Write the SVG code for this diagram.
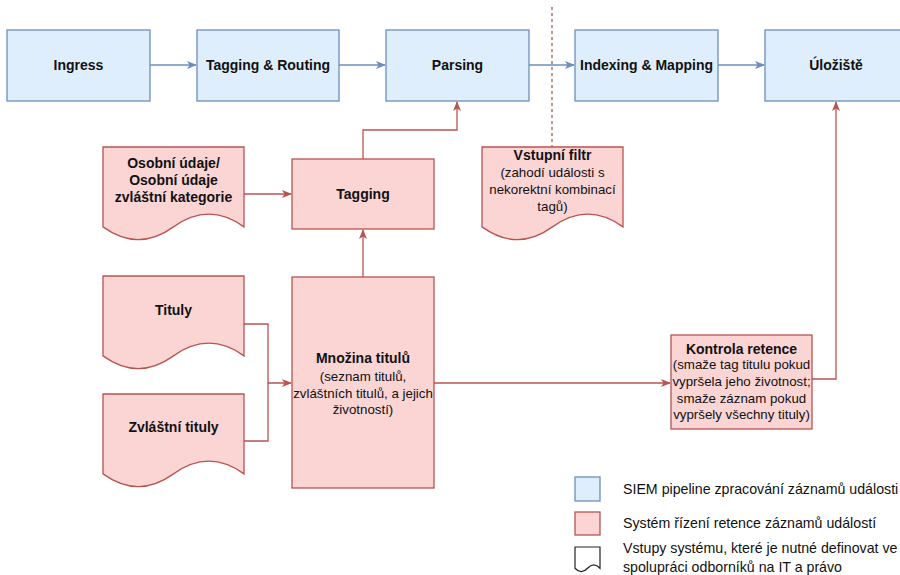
<svg xmlns="http://www.w3.org/2000/svg" width="900" height="575" viewBox="0 0 900 575">
<style>
.blue{fill:#dfeefc;stroke:#6c8ebf;stroke-width:1.3}
.red{fill:#fad5d4;stroke:#b85450;stroke-width:1.3}
.t{font-family:"Liberation Sans",Arial,sans-serif;font-size:13.3px;fill:#111;text-anchor:middle}
.b{font-weight:bold;font-size:14px}
.l{text-anchor:start;font-size:14.2px}
.cb{fill:none;stroke:#6c8ebf;stroke-width:1.3}
.cr{fill:none;stroke:#b85450;stroke-width:1.3}
</style>
<defs>
<marker id="ab" viewBox="0 0 10 10" refX="9" refY="5" markerWidth="10" markerHeight="10" markerUnits="userSpaceOnUse" orient="auto"><path d="M0,1 L10,5 L0,9 L2.5,5 Z" fill="#6c8ebf"/></marker>
<marker id="ar" viewBox="0 0 10 10" refX="9" refY="5" markerWidth="10" markerHeight="10" markerUnits="userSpaceOnUse" orient="auto"><path d="M0,1 L10,5 L0,9 L2.5,5 Z" fill="#b85450"/></marker>
<path id="doc" d="M0,0 H141 V79.9 Q105.75,54.5 70.5,79.9 Q35.25,105.3 0,79.9 Z"/>
</defs>
<g id="connectors">
<path class="cb" d="M150,65 H196" marker-end="url(#ab)"/>
<path class="cb" d="M339,65 H385" marker-end="url(#ab)"/>
<path class="cb" d="M529,65 H574" marker-end="url(#ab)"/>
<path class="cb" d="M718,65 H764" marker-end="url(#ab)"/>
<path class="cr" d="M552,7 V147" stroke-dasharray="3,3"/>
<path class="cr" d="M244,194 H291" marker-end="url(#ar)"/>
<path class="cr" d="M363,159 V130 H457 V102" marker-end="url(#ar)"/>
<path class="cr" d="M363,277 V230" marker-end="url(#ar)"/>
<path class="cr" d="M244,324 H268 V383 H291" marker-end="url(#ar)"/>
<path class="cr" d="M244,441 H268 V383"/>
<path class="cr" d="M434,383 H670" marker-end="url(#ar)"/>
<path class="cr" d="M812,379 H836 V102" marker-end="url(#ar)"/>
</g>
<g id="ingress"><rect class="blue" x="7" y="30" width="143" height="71"/><text class="t b" x="78.5" y="70">Ingress</text></g>
<g id="tagging-routing"><rect class="blue" x="197" y="30" width="142" height="71"/><text class="t b" x="268" y="70">Tagging &amp; Routing</text></g>
<g id="parsing"><rect class="blue" x="386" y="30" width="143" height="71"/><text class="t b" x="457.5" y="70">Parsing</text></g>
<g id="indexing"><rect class="blue" x="575" y="30" width="143" height="71"/><text class="t b" x="646.5" y="70">Indexing &amp; Mapping</text></g>
<g id="uloziste"><rect class="blue" x="765" y="30" width="143" height="71"/><text class="t b" x="836" y="70">Úložiště</text></g>
<g id="osobni-udaje"><use href="#doc" class="red" x="103" y="147"/>
<text class="t b" x="173.5" y="168">Osobní údaje/</text><text class="t b" x="173.5" y="185">Osobní údaje</text><text class="t b" x="173.5" y="202">zvláštní kategorie</text></g>
<g id="tagging"><rect class="red" x="292" y="159" width="142" height="70"/><text class="t b" x="363" y="199">Tagging</text></g>
<g id="vstupni-filtr"><use href="#doc" class="red" x="482" y="147"/>
<text class="t b" x="552.5" y="160">Vstupní filtr</text><text class="t" x="552.5" y="177">(zahodí události s</text><text class="t" x="552.5" y="194">nekorektní kombinací</text><text class="t" x="552.5" y="211">tagů)</text></g>
<g id="tituly"><use href="#doc" class="red" x="103" y="276"/><text class="t b" x="173.5" y="315">Tituly</text></g>
<g id="zvlastni-tituly"><use href="#doc" class="red" x="103" y="394"/><text class="t b" x="173.5" y="432">Zvláštní tituly</text></g>
<g id="mnozina"><rect class="red" x="292" y="277" width="142" height="211"/>
<text class="t b" x="363" y="363">Množina titulů</text><text class="t" x="363" y="381">(seznam titulů,</text><text class="t" x="363" y="398">zvláštních titulů, a jejich</text><text class="t" x="363" y="414">životností)</text></g>
<g id="kontrola"><rect class="red" x="671" y="335" width="141" height="94"/>
<text class="t b" x="741.5" y="354">Kontrola retence</text><text class="t" x="741.5" y="369">(smaže tag titulu pokud</text><text class="t" x="741.5" y="386">vypršela jeho životnost;</text><text class="t" x="741.5" y="403">smaže záznam pokud</text><text class="t" x="741.5" y="419">vypršely všechny tituly)</text></g>
<g id="legend">
<rect class="blue" x="575" y="477" width="25" height="24"/>
<text class="t l" x="623" y="494">SIEM pipeline zpracování záznamů události</text>
<rect class="red" x="575" y="512" width="25" height="23"/>
<text class="t l" x="623" y="528">Systém řízení retence záznamů událostí</text>
<path d="M575,547 H600 V568.25 Q593.75,561.5 587.5,568.25 Q581.25,575 575,568.25 Z" fill="#fff" stroke="#222" stroke-width="1.2"/>
<text class="t l" x="623" y="553">Vstupy systému, které je nutné definovat ve</text>
<text class="t l" x="623" y="572">spolupráci odborníků na IT a právo</text>
</g>
</svg>
